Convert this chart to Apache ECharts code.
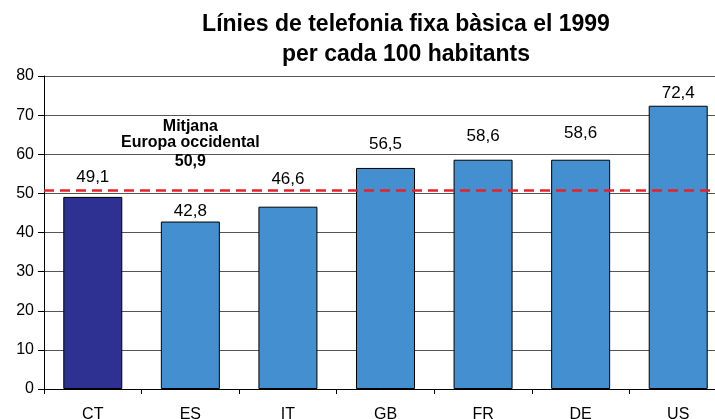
<!DOCTYPE html>
<html>
<head>
<meta charset="utf-8">
<script src="https://cdn.jsdelivr.net/npm/echarts@6/dist/echarts.min.js"></script>
<style>
  html, body { margin: 0; padding: 0; background: #fff; }
  #chart { width: 715px; height: 419px; }
</style>
</head>
<body>
<div id="chart"></div>
<script>
// data
const countries = ['CT', 'ES', 'IT', 'GB', 'FR', 'DE', 'US'];
const lines = [49.1, 42.8, 46.6, 56.5, 58.6, 58.6, 72.4];
const westEuropeAvg = 50.9;
const yTicks = [0, 10, 20, 30, 40, 50, 60, 70, 80];

// label gaps above each bar (the original nudges some clear of the average line)
const labelGap = [11, 2, 19, 15, 15, 18, 4];

const fmt = v => String(v.toFixed(1)).replace('.', ',');
const font = 'Liberation Sans, Arial, sans-serif';

const chart = echarts.init(document.getElementById('chart'));

chart.setOption({
  animation: false,
  title: {
    text: 'Línies de telefonia fixa bàsica el 1999\nper cada 100 habitants',
    left: 401,
    top: 5,
    textAlign: 'center',
    textStyle: { fontFamily: font, fontSize: 23, fontWeight: 'bold', color: '#000', lineHeight: 30 }
  },
  grid: { left: 44, right: -12, top: 76, bottom: 30, outerBoundsMode: 'none' },
  xAxis: {
    type: 'category',
    data: countries,
    axisLine: { lineStyle: { color: '#000', width: 1 } },
    axisTick: { show: true, length: 5, lineStyle: { color: '#000' } },
    axisLabel: { fontFamily: font, fontSize: 16, color: '#000', margin: 18 }
  },
  yAxis: {
    type: 'value',
    min: yTicks[0],
    max: yTicks[yTicks.length - 1],
    interval: 10,
    axisLine: { show: true, lineStyle: { color: '#000', width: 1 } },
    axisTick: { show: true, length: 6, lineStyle: { color: '#000' } },
    axisLabel: { fontFamily: font, fontSize: 16, color: '#000', margin: 10 },
    splitLine: { show: true, lineStyle: { color: '#555', width: 1 } }
  },
  series: [{
    type: 'bar',
    data: lines.map((v, i) => ({
      value: v,
      itemStyle: { color: i === 0 ? '#2e3192' : '#438fcf' },
      label: { distance: labelGap[i] }
    })),
    barWidth: 59,
    itemStyle: { borderColor: '#000', borderWidth: 1 },
    label: {
      show: true,
      position: 'top',
      fontFamily: font,
      fontSize: 17,
      color: '#000',
      formatter: p => fmt(p.value)
    },
    markLine: {
      silent: true,
      symbol: 'none',
      label: { show: false },
      lineStyle: { color: '#e8202a', width: 2.5, type: [10, 6] },
      data: [{ yAxis: westEuropeAvg }]
    },
    markPoint: {
      silent: true,
      symbol: 'circle',
      symbolSize: 0,
      data: [{ coord: ['ES', westEuropeAvg], value: westEuropeAvg }],
      label: {
        show: true,
        position: 'top',
        distance: 17,
        align: 'center',
        formatter: p => '{a|Mitjana}\n{a|Europa occidental}\n{b|' + fmt(p.value) + '}',
        rich: {
          a: { fontFamily: font, fontSize: 16, fontWeight: 'bold', color: '#000', lineHeight: 16, align: 'center' },
          b: { fontFamily: font, fontSize: 16, fontWeight: 'bold', color: '#000', lineHeight: 22, align: 'center' }
        }
      }
    }
  }]
});
</script>
</body>
</html>
